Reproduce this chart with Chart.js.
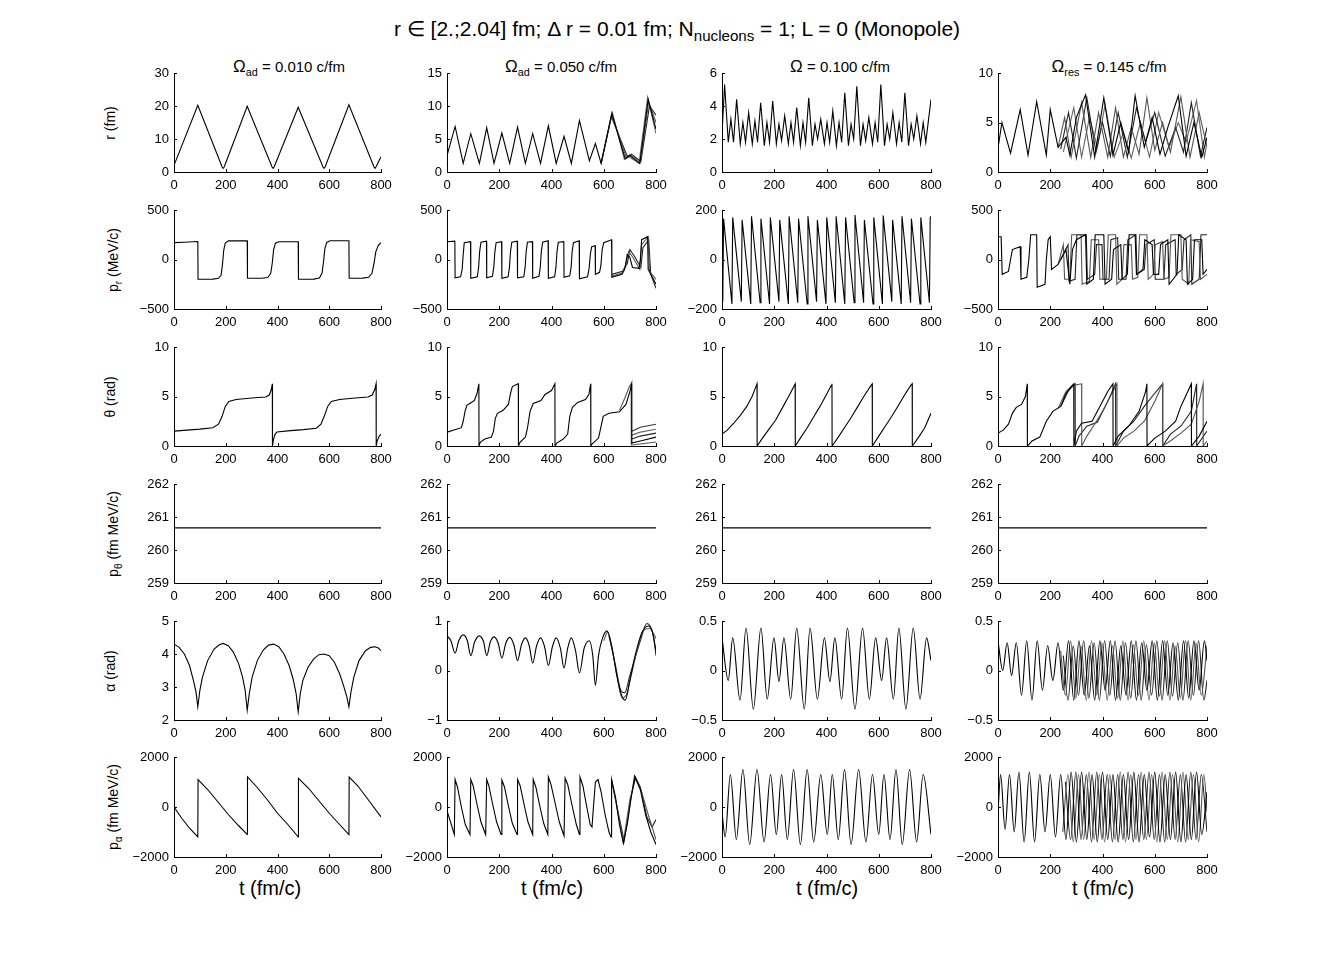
<!DOCTYPE html>
<html>
<head>
<meta charset="utf-8">
<script src="https://cdn.jsdelivr.net/npm/chart.js@4.4.0/dist/chart.umd.min.js"></script>
<style>
body { margin: 0; background: #fff; width: 1334px; height: 963px; position: relative; overflow: hidden; font-family: "Liberation Sans", Arial, sans-serif; color: #000; }
.panel { position: absolute; line-height: 0; }
.lbl { position: absolute; white-space: nowrap; line-height: 1; }
.lbl sub { font-size: 0.72em; vertical-align: -0.35em; line-height: 0; }
.title { font-size: 21px; transform: translateX(-50%); }
.head { font-size: 15px; transform: translateX(-50%); }
.head .om { font-size: 17px; }
.ylab { font-size: 14px; transform: translate(-50%, -50%) rotate(-90deg); }
.xlab { font-size: 20px; transform: translateX(-50%); }
</style>
</head>
<body>
<div class="lbl title" style="left:677px; top:18px;">r ∈ [2.;2.04] fm; Δ r = 0.01 fm; N<sub>nucleons</sub> = 1; L = 0 (Monopole)</div>

<div class="lbl head" style="left:289px; top:58px;"><span class="om">Ω</span><sub>ad</sub> = 0.010 c/fm</div>
<div class="lbl head" style="left:561px; top:58px;"><span class="om">Ω</span><sub>ad</sub> = 0.050 c/fm</div>
<div class="lbl head" style="left:840px; top:58px;"><span class="om">Ω</span> = 0.100 c/fm</div>
<div class="lbl head" style="left:1109px; top:58px;"><span class="om">Ω</span><sub>res</sub> = 0.145 c/fm</div>

<div class="lbl ylab" style="left:110px; top:123px;">r (fm)</div>
<div class="lbl ylab" style="left:113px; top:260px;">p<sub>r</sub> (MeV/c)</div>
<div class="lbl ylab" style="left:110px; top:397px;">θ (rad)</div>
<div class="lbl ylab" style="left:113px; top:534px;">p<sub>θ</sub> (fm MeV/c)</div>
<div class="lbl ylab" style="left:110px; top:671px;">α (rad)</div>
<div class="lbl ylab" style="left:113px; top:807px;">p<sub>α</sub> (fm MeV/c)</div>

<div class="lbl xlab" style="left:270px; top:878px;">t (fm/c)</div>
<div class="lbl xlab" style="left:552px; top:878px;">t (fm/c)</div>
<div class="lbl xlab" style="left:827px; top:878px;">t (fm/c)</div>
<div class="lbl xlab" style="left:1103px; top:878px;">t (fm/c)</div>

<script>
// ---- tick labels ----
const tTicks = [0, 200, 400, 600, 800];
const rTicks = [[0, 10, 20, 30], [0, 5, 10, 15], [0, 2, 4, 6], [0, 5, 10]];
const prTicks = [[-500, 0, 500], [-500, 0, 500], [-200, 0, 200], [-500, 0, 500]];
const thetaTicks = [0, 5, 10];
const pthetaTicks = [259, 260, 261, 262];
const alphaTicks = [[2, 3, 4, 5], [-1, 0, 1], [-0.5, 0, 0.5], [-0.5, 0, 0.5]];
const palphaTicks = [-2000, 0, 2000];

// ---- Omega_ad = 0.010 ----
const r010 = [[0,2.0],[92,20.2],[186,1.5],[190,1.1],[194,1.5],[283,19.9],[379,1.5],[383,1.1],[387,1.5],[480,19.6],[576,1.5],[580,1.1],[584,1.5],[676,20.4],[773,1.5],[777,1.1],[781,1.6],[800,4.6]];
const pr010 = [[0,170],[40,175],[92,182],[93,-200],[150,-198],[172,-190],[182,-160],[187,-60],[192,90],[198,165],[210,188],[283,190],[284,-190],[340,-190],[362,-182],[374,-140],[380,-30],[385,100],[392,165],[405,180],[480,180],[481,-200],[540,-198],[562,-188],[572,-140],[578,-20],[583,110],[590,172],[603,190],[676,190],[677,-190],[730,-188],[752,-180],[765,-140],[773,-40],[780,80],[790,145],[800,170]];
const theta010 = [[0,1.5],[50,1.6],[100,1.7],[150,1.85],[172,2.2],[186,3.0],[198,4.0],[212,4.5],[240,4.7],[300,4.85],[355,4.95],[368,5.15],[376,5.7],[380,6.28],[380.5,0],[384,0.6],[390,1.15],[398,1.42],[450,1.55],[500,1.65],[550,1.8],[568,2.2],[582,3.1],[594,4.0],[608,4.5],[640,4.7],[700,4.85],[750,4.95],[766,5.15],[776,5.7],[781,6.28],[781.5,0],[785,0.5],[792,0.95],[800,1.2]];
const ptheta = [[0,260.67],[800,260.67]];
const alpha010 = [[0,4.3],[20,4.2],[40,4.0],[60,3.65],[75,3.2],[85,2.85],[92,2.4],[100,2.9],[110,3.3],[130,3.8],[155,4.15],[175,4.28],[190,4.32],[210,4.25],[230,4.05],[250,3.7],[265,3.3],[275,2.9],[283,2.3],[291,2.8],[302,3.3],[322,3.8],[345,4.12],[365,4.27],[385,4.3],[405,4.22],[425,4.0],[445,3.65],[460,3.25],[472,2.8],[480,2.25],[488,2.8],[498,3.2],[518,3.6],[540,3.85],[560,3.98],[580,4.0],[600,3.95],[620,3.75],[640,3.4],[655,3.05],[668,2.7],[676,2.4],[684,2.85],[695,3.3],[715,3.8],[740,4.1],[760,4.2],[777,4.22],[790,4.18],[800,4.1]];
const palpha010 = [[0,0],[30,-450],[60,-850],[92,-1200],[93,1100],[130,700],[170,200],[210,-300],[250,-750],[283,-1100],[284,1200],[320,800],[360,300],[400,-250],[440,-700],[480,-1200],[481,1150],[520,750],[560,250],[600,-250],[640,-700],[676,-1100],[677,1200],[710,850],[750,300],[800,-400]];

// ---- Omega_ad = 0.050 ----
const r050 = [[0,2.5],[31,6.9],[62,1.3],[91,5.8],[124,1.3],[152,6.7],[180,1.3],[210,5.9],[240,1.3],[270,6.8],[300,1.3],[328,5.8],[358,1.3],[388,7.0],[418,1.3],[448,5.4],[476,1.3],[507,7.8],[545,1.7],[568,4.3],[590,1.3],[631,8.9],[682,2.0],[700,2.5],[738,1.3],[770,11.0],[800,6.5]];
const r050b = [[590,1.3],[630,8.7],[686,2.2],[703,2.6],[740,1.5],[772,10.6],[800,7.5]];
const r050c = [[590,1.3],[629,8.4],[690,2.4],[706,2.7],[742,1.6],[775,10.0],[800,8.6]];
const r050d = [[590,1.3],[633,9.0],[679,1.9],[697,2.3],[735,1.3],[768,11.3],[800,5.8]];
const pr050 = [[0,180],[30,185],[31,-185],[52,-175],[58,-100],[62,50],[66,170],[90,180],[91,-190],[116,-175],[121,-80],[125,80],[130,175],[151,185],[152,-185],[174,-170],[179,-80],[183,70],[188,170],[209,180],[210,-190],[234,-175],[239,-80],[243,80],[248,175],[269,185],[270,-185],[294,-175],[299,-80],[303,80],[308,175],[327,180],[328,-190],[352,-170],[357,-80],[361,80],[366,175],[387,190],[388,-190],[412,-175],[417,-80],[421,80],[426,175],[447,180],[448,-180],[470,-165],[475,-80],[479,80],[484,170],[506,190],[507,-195],[538,-175],[544,-90],[549,60],[554,130],[567,140],[568,-150],[584,-130],[589,-60],[594,100],[600,170],[630,200],[631,-180],[670,-150],[680,-100],[690,50],[700,20],[710,-80],[735,-90],[740,0],[745,200],[768,230],[770,-100],[800,-250]];
const pr050b = [[631,-170],[668,-140],[685,-60],[695,80],[712,20],[738,-100],[745,150],[770,230],[775,-120],[800,-200]];
const pr050c = [[631,-150],[672,-120],[690,-40],[700,100],[718,30],[742,-80],[750,120],[772,200],[780,-150],[800,-290]];
const theta050 = [[0,1.4],[30,1.65],[55,1.85],[62,2.5],[69,3.5],[76,4.1],[90,4.35],[105,4.6],[115,5.3],[122,6.28],[122.5,0],[128,0.4],[145,0.7],[170,0.9],[178,1.5],[185,2.8],[193,3.3],[215,3.6],[235,4.2],[243,5.3],[250,6.0],[270,6.25],[273,6.28],[273.5,0],[280,0.4],[300,0.9],[308,1.8],[318,3.5],[330,4.3],[360,4.6],[375,5.2],[400,5.6],[413,6.28],[413.5,0],[420,0.3],[445,0.7],[462,1.2],[470,3.0],[480,3.9],[500,4.4],[530,4.7],[543,5.2],[550,6.28],[550.5,0],[555,0.2],[580,0.8],[590,2.0],[598,3.0],[620,3.3],[660,3.45],[685,4.2],[700,5.5],[707,6.28],[707.5,0.3],[740,0.5],[800,0.9]];
const theta050b = [[660,3.6],[680,4.8],[698,6.0],[705,6.28],[705.5,0.1],[740,0.2],[800,0.4]];
const theta050c = [[707.5,0.7],[740,1.0],[800,1.3]];
const theta050d = [[707.5,1.1],[740,1.4],[800,1.7]];
const theta050e = [[707.5,1.5],[740,1.9],[800,2.2]];
const alpha050 = [[0,0.7],[15,0.6],[31,0.35],[45,0.6],[62,0.72],[78,0.6],[91,0.3],[106,0.58],[124,0.7],[140,0.58],[152,0.3],[166,0.58],[180,0.68],[196,0.55],[210,0.25],[225,0.55],[240,0.67],[256,0.52],[270,0.2],[285,0.52],[300,0.66],[315,0.5],[328,0.15],[343,0.5],[358,0.66],[374,0.47],[388,0.1],[403,0.47],[418,0.66],[434,0.45],[448,0.05],[462,0.45],[476,0.66],[492,0.4],[507,-0.05],[525,0.45],[545,0.6],[558,0.3],[568,-0.3],[580,0.3],[592,0.6],[612,0.8],[630,0.5],[650,-0.1],[668,-0.5],[682,-0.6],[700,-0.2],[720,0.3],[745,0.75],[770,0.9],[785,0.8],[800,0.4]];
const alpha050b = [[600,0.6],[615,0.78],[632,0.45],[652,-0.15],[670,-0.55],[686,-0.5],[705,-0.1],[725,0.35],[750,0.8],[775,0.85],[800,0.65]];
const alpha050c = [[620,0.7],[645,0.1],[665,-0.4],[680,-0.45],[700,-0.1],[740,0.6],[765,0.95],[790,0.7],[800,0.3]];
const palpha050 = [[0,-150],[28,-1100],[31,1100],[40,800],[55,0],[70,-700],[88,-1100],[91,1100],[100,850],[115,100],[130,-600],[148,-1100],[152,1100],[160,850],[175,100],[190,-600],[207,-1100],[210,1080],[220,800],[235,50],[250,-650],[268,-1100],[270,1100],[280,850],[295,100],[310,-600],[328,-1100],[330,1100],[340,800],[355,50],[370,-650],[386,-1100],[388,1200],[398,900],[415,100],[430,-600],[448,-1150],[452,1150],[462,900],[478,100],[495,-700],[507,-1100],[509,1200],[520,850],[535,0],[548,-700],[555,-800],[562,200],[568,1000],[578,1100],[590,600],[605,-300],[620,-1000],[628,-1200],[630,1100],[645,400],[660,-700],[675,-1450],[690,-700],[705,400],[720,1200],[740,700],[760,-300],[780,-1000],[800,-1500]];
const palpha050b = [[630,1100],[650,0],[675,-1400],[700,300],[722,1150],[745,600],[770,-300],[800,-1300]];
const palpha050c = [[630,1050],[655,-200],[678,-1350],[702,200],[718,1250],[740,800],[765,-400],[785,-800],[800,-500]];

// ---- Omega = 0.100 ----
const r100 = [[0,2.3],[10,5.3],[24,1.8],[34,3.2],[44,1.8],[56,4.4],[70,1.7],[80,3.0],[90,1.8],[102,3.6],[116,1.7],[126,3.1],[136,1.8],[148,4.2],[162,1.6],[172,3.0],[182,1.8],[194,4.3],[208,1.7],[218,2.9],[228,1.9],[240,3.4],[254,1.7],[264,3.0],[274,1.8],[286,3.9],[300,1.6],[310,3.0],[320,1.8],[332,4.5],[346,1.6],[356,2.9],[366,2.0],[378,3.2],[392,1.7],[402,3.0],[412,1.8],[424,3.7],[438,1.6],[448,3.0],[458,1.8],[470,4.8],[484,1.6],[494,2.9],[504,2.0],[516,5.2],[530,1.6],[540,2.9],[550,1.9],[562,3.3],[576,1.7],[586,3.0],[596,1.8],[608,5.3],[622,1.6],[632,2.9],[642,2.0],[654,3.6],[668,1.7],[678,3.0],[688,1.8],[700,4.8],[714,1.6],[724,2.9],[734,2.0],[746,3.4],[760,1.7],[770,3.0],[780,1.8],[800,4.4]];
const pr100 = [[0,-60],[3,-170],[6,165],[38,-180],[41,170],[74,-170],[77,160],[110,-180],[113,175],[146,-175],[149,165],[182,-180],[185,170],[218,-170],[221,160],[254,-180],[257,175],[290,-175],[293,165],[326,-180],[329,175],[362,-170],[365,160],[398,-180],[401,170],[434,-175],[437,175],[470,-180],[473,170],[506,-175],[509,180],[542,-175],[545,160],[578,-180],[581,170],[614,-180],[617,178],[650,-170],[653,160],[686,-180],[689,175],[722,-175],[725,165],[758,-180],[761,170],[794,-175],[797,170],[800,175]];
const theta100 = [[0,1.2],[20,1.6],[45,2.3],[70,3.1],[95,4.0],[115,5.0],[130,6.0],[134,6.28],[134.5,0],[155,0.8],[180,1.7],[205,2.6],[230,3.8],[255,5.0],[275,6.0],[280,6.28],[280.5,0],[300,0.8],[325,1.8],[350,2.9],[375,4.0],[400,5.2],[418,6.1],[421,6.28],[421.5,0],[445,0.9],[470,1.9],[495,2.9],[520,4.0],[545,5.1],[570,6.1],[575,6.28],[575.5,0],[600,1.0],[625,2.0],[650,3.0],[675,4.1],[700,5.2],[722,6.1],[728,6.28],[728.5,0],[750,0.8],[775,1.8],[800,3.3]];
const alpha100 = [[0,0.33],[24,-0.1],[41,0.33],[69,-0.3],[92,0.43],[120,-0.39],[149,0.43],[173,-0.29],[199,0.33],[218,-0.11],[237,0.33],[263,-0.29],[286,0.43],[315,-0.39],[337,0.43],[365,-0.29],[392,0.33],[413,-0.11],[432,0.33],[458,-0.29],[480,0.43],[509,-0.39],[538,0.43],[564,-0.29],[588,0.33],[611,-0.1],[630,0.33],[656,-0.29],[677,0.43],[704,-0.39],[732,0.43],[758,-0.29],[783,0.33],[800,0.1]];
const palpha100 = [[0,-200],[12,-1200],[32,1300],[55,-1300],[80,1500],[106,-1500],[134,1500],[161,-1400],[186,1300],[208,-1100],[228,1300],[250,-1300],[274,1500],[300,-1500],[326,1500],[351,-1400],[378,1300],[403,-1100],[422,1300],[445,-1300],[469,1500],[494,-1500],[523,1500],[551,-1400],[576,1300],[600,-1100],[620,1300],[643,-1300],[666,1500],[690,-1500],[718,1500],[745,-1400],[770,1300],[800,-1100]];

// ---- Omega_res = 0.145 ----
const r145 = [[0,2.4],[15,5.0],[48,1.9],[85,6.3],[115,1.7],[148,7.1],[185,1.7],[200,6.3],[230,2.5],[260,3.5],[275,1.7],[300,5.5],[335,7.8],[370,1.5],[405,7.5],[440,1.7],[470,5.0],[500,2.0],[525,7.7],[560,2.5],[590,5.5],[620,1.8],[650,4.5],[690,7.7],[720,1.6],[750,5.0],[780,1.5],[800,3.5]];
const r145b = [[230,2.5],[255,5.5],[280,1.5],[320,7.0],[355,1.5],[385,6.0],[420,1.5],[450,6.5],[480,1.5],[510,4.5],[540,1.8],[570,7.5],[600,2.2],[630,5.0],[660,2.0],[700,7.6],[735,1.5],[770,6.0],[800,2.5]];
const r145c = [[240,2.3],[270,6.0],[300,1.4],[340,7.5],[375,2.0],[400,5.0],[430,1.6],[460,6.0],[495,1.5],[530,6.5],[565,3.0],[600,6.0],[640,1.6],[680,4.5],[710,2.0],[740,7.0],[775,1.6],[800,4.5]];
const r145d = [[250,2.0],[290,6.5],[320,1.5],[350,5.5],[380,2.5],[410,6.8],[445,1.5],[480,4.0],[510,1.4],[545,5.0],[580,1.5],[615,6.0],[655,2.5],[690,5.0],[720,3.0],[760,7.2],[790,1.5],[800,3.0]];
const pr145 = [[0,230],[12,230],[16,-150],[40,-120],[48,0],[55,100],[85,130],[88,-200],[110,-180],[118,0],[125,250],[148,250],[150,-280],[180,-250],[185,0],[192,200],[200,230],[205,-100],[230,-50],[260,100],[275,-250],[285,100],[300,200],[335,250],[340,-250],[365,-200],[372,250],[405,250],[410,-250],[435,-200],[442,100],[470,150],[475,-200],[495,-150],[502,250],[525,250],[530,-150],[555,-100],[562,200],[590,150],[595,-150],[615,-150],[622,150],[650,200],[655,-250],[685,-150],[692,250],[720,200],[725,-250],[745,-200],[752,200],[780,200],[785,-150],[800,-100]];
const pr145b = [[230,-50],[250,150],[255,-200],[275,-200],[282,250],[318,250],[322,-250],[350,-220],[357,200],[385,200],[390,-200],[415,-200],[422,250],[450,250],[455,-250],[475,-200],[482,150],[510,150],[515,-200],[535,-180],[542,250],[570,250],[575,-200],[595,-150],[602,150],[630,180],[635,-200],[655,-180],[662,250],[700,250],[705,-200],[730,-250],[737,200],[770,180],[775,-200],[800,-150]];
const pr145c = [[240,0],[268,150],[272,-220],[295,-200],[302,250],[338,250],[342,-200],[370,-150],[377,150],[398,150],[402,-200],[425,-200],[432,200],[458,220],[462,-200],[490,-200],[497,200],[528,250],[532,-150],[560,-100],[567,150],[598,200],[602,-200],[635,-200],[642,150],[678,200],[682,-150],[705,-100],[712,200],[738,250],[742,-250],[770,-200],[777,250],[800,250]];
const theta145 = [[0,1.3],[20,1.6],[40,2.2],[55,3.3],[70,3.9],[90,4.2],[105,5.0],[112,6.28],[112.5,0],[130,0.5],[160,0.9],[185,2.5],[210,3.5],[240,4.0],[260,5.3],[280,6.0],[290,6.28],[290.5,0],[300,1.5],[320,2.3],[360,2.5],[390,4.0],[420,5.5],[440,6.28],[440.5,0],[460,1.0],[500,2.0],[540,3.5],[565,5.5],[570,6.28],[570.5,0],[600,0.8],[640,1.5],[680,2.5],[700,4.0],[740,6.28],[740.5,0],[770,1.0],[800,2.5]];
const theta145b = [[230,3.8],[260,5.5],[285,6.1],[320,6.28],[320.5,0],[340,1.0],[370,2.2],[400,3.5],[430,5.0],[455,6.28],[455.5,0],[480,0.8],[520,1.5],[560,2.5],[600,4.5],[630,6.28],[630.5,0],[660,0.5],[700,1.3],[740,2.2],[770,4.5],[785,6.28],[785.5,0],[800,0.5]];
const theta145c = [[240,4.0],[270,5.6],[295,6.28],[295.5,0],[310,1.0],[340,2.0],[380,2.4],[420,4.5],[450,6.28],[450.5,0],[480,1.5],[520,2.5],[560,4.0],[590,5.0],[630,6.28],[630.5,0],[660,1.2],[700,2.0],[740,3.5],[760,6.28],[760.5,0],[800,1.5]];
const alpha145 = [[0,0.3],[18,0.0],[35,0.28],[52,-0.05],[70,0.28],[90,-0.25],[110,0.3],[130,-0.3],[150,0.3],[170,-0.2],[190,0.25],[210,-0.1],[230,0.28],[250,-0.2],[270,0.3],[290,-0.3],[310,0.3],[330,-0.25],[350,0.25],[370,-0.3],[390,0.3],[410,-0.2],[430,0.3],[450,-0.3],[470,0.25],[490,-0.25],[510,0.3],[530,-0.3],[550,0.28],[570,-0.2],[590,0.3],[610,-0.3],[630,0.3],[650,-0.25],[670,0.28],[690,-0.3],[710,0.3],[730,-0.28],[750,0.3],[770,-0.2],[790,0.3],[800,0.1]];
const alpha145b = [[240,0.2],[258,-0.25],[278,0.3],[298,-0.28],[318,0.25],[338,-0.3],[358,0.3],[378,-0.25],[398,0.28],[418,-0.3],[438,0.25],[458,-0.28],[478,0.3],[498,-0.3],[518,0.26],[538,-0.25],[558,0.3],[578,-0.3],[598,0.28],[618,-0.26],[638,0.3],[658,-0.3],[678,0.25],[698,-0.28],[718,0.3],[738,-0.3],[758,0.28],[778,-0.25],[800,0.25]];
const alpha145c = [[250,0.15],[268,-0.3],[288,0.25],[308,-0.25],[328,0.3],[348,-0.28],[368,0.28],[388,-0.3],[408,0.3],[428,-0.25],[448,0.3],[468,-0.3],[488,0.28],[508,-0.28],[528,0.3],[548,-0.3],[568,0.26],[588,-0.25],[608,0.3],[628,-0.3],[648,0.3],[668,-0.26],[688,0.28],[708,-0.3],[728,0.3],[748,-0.25],[768,0.3],[788,-0.3],[800,-0.1]];
const palpha145 = [[0,-200],[10,1300],[27,-900],[44,1300],[62,-1000],[80,1400],[100,-1400],[120,1400],[140,-1400],[160,1300],[180,-1000],[200,1300],[220,-1200],[240,1300],[260,-1300],[280,1400],[300,-1400],[320,1400],[340,-1300],[360,1300],[380,-1400],[400,1400],[420,-1300],[440,1300],[460,-1400],[480,1300],[500,-1300],[520,1400],[540,-1400],[560,1300],[580,-1200],[600,1400],[620,-1400],[640,1300],[660,-1300],[680,1400],[700,-1400],[720,1300],[740,-1300],[760,1400],[780,-1100],[800,600]];
const palpha145b = [[248,-1000],[268,1300],[288,-1400],[308,1300],[328,-1300],[348,1400],[368,-1300],[388,1300],[408,-1400],[428,1300],[448,-1300],[468,1400],[488,-1400],[508,1300],[528,-1300],[548,1400],[568,-1300],[588,1300],[608,-1400],[628,1400],[648,-1300],[668,1300],[688,-1400],[708,1400],[728,-1300],[748,1300],[768,-1400],[788,1300],[800,-200]];
const palpha145c = [[258,1000],[278,-1300],[298,1400],[318,-1300],[338,1300],[358,-1400],[378,1400],[398,-1300],[418,1300],[438,-1400],[458,1300],[478,-1300],[498,1400],[518,-1400],[538,1300],[558,-1300],[578,1400],[598,-1300],[618,1300],[638,-1400],[658,1400],[678,-1300],[698,1300],[718,-1400],[738,1400],[758,-1300],[778,1300],[800,-1000]];

// ---- layout ----
const COL_X = [174, 447, 722, 998];
const COL_W = [207, 209, 209, 209];
const ROW_Y = [73, 210, 347, 484, 621, 757];
const ROW_H = [99, 99, 99, 99, 99, 100];
const PAD_L = 56, PAD_R = 18, PAD_T = 16, PAD_B = 22;
const LINE_COLORS = ['#000', '#555', '#222', '#666', '#333'];

Chart.defaults.font.family = '"Liberation Sans", Arial, Helvetica, sans-serif';
Chart.defaults.font.size = 13;
Chart.defaults.color = '#000';

function fmt(v) {
    return v < 0 ? '\u2212' + Math.abs(v) : String(v);
}

// MATLAB style ticks pointing into the axes
const innerTicks = {
    id: 'innerTicks',
    afterDraw(chart) {
        const { ctx, chartArea: a, scales: { x, y } } = chart;
        ctx.save();
        ctx.strokeStyle = '#000';
        ctx.lineWidth = 1;
        ctx.beginPath();
        x.ticks.forEach(t => {
            const px = Math.round(x.getPixelForValue(t.value)) + 0.5;
            ctx.moveTo(px, a.bottom);
            ctx.lineTo(px, a.bottom - 3);
        });
        y.ticks.forEach(t => {
            const py = Math.round(y.getPixelForValue(t.value)) + 0.5;
            ctx.moveTo(a.left, py);
            ctx.lineTo(a.left + 3, py);
        });
        ctx.stroke();
        ctx.restore();
    }
};

function makePanel(col, row, yTicks, series, smooth) {
    const w = COL_W[col], h = ROW_H[row];
    const holder = document.createElement('div');
    holder.className = 'panel';
    holder.style.left = (COL_X[col] - PAD_L) + 'px';
    holder.style.top = (ROW_Y[row] - PAD_T) + 'px';
    const cv = document.createElement('canvas');
    cv.width = PAD_L + w + PAD_R;
    cv.height = PAD_T + h + PAD_B;
    holder.appendChild(cv);
    document.body.appendChild(holder);

    new Chart(cv, {
        type: 'line',
        data: {
            datasets: series.map((s, i) => ({
                data: s.map(p => ({ x: p[0], y: p[1] })),
                borderColor: LINE_COLORS[i % LINE_COLORS.length],
                borderWidth: 1.1,
                pointRadius: 0,
                fill: false,
                tension: 0,
                cubicInterpolationMode: smooth ? 'monotone' : 'default'
            }))
        },
        options: {
            responsive: false,
            animation: false,
            events: [],
            layout: { padding: { top: PAD_T, right: PAD_R, left: 0, bottom: 0 } },
            plugins: { legend: { display: false }, tooltip: { enabled: false } },
            scales: {
                x: {
                    type: 'linear',
                    min: 0,
                    max: 800,
                    afterBuildTicks: s => { s.ticks = tTicks.map(v => ({ value: v })); },
                    afterFit: s => { s.height = PAD_B; },
                    grid: { display: false, drawTicks: false },
                    border: { display: true, color: '#000', width: 1 },
                    ticks: { padding: 6, maxRotation: 0, autoSkip: false, callback: fmt }
                },
                y: {
                    type: 'linear',
                    min: yTicks[0],
                    max: yTicks[yTicks.length - 1],
                    afterBuildTicks: s => { s.ticks = yTicks.map(v => ({ value: v })); },
                    afterFit: s => { s.width = PAD_L; },
                    grid: { display: false, drawTicks: false },
                    border: { display: true, color: '#000', width: 1 },
                    ticks: { padding: 5, autoSkip: false, callback: fmt }
                }
            }
        },
        plugins: [innerTicks]
    });
}

// column 1
makePanel(0, 0, rTicks[0], [r010], false);
makePanel(0, 1, prTicks[0], [pr010], false);
makePanel(0, 2, thetaTicks, [theta010], false);
makePanel(0, 3, pthetaTicks, [ptheta], false);
makePanel(0, 4, alphaTicks[0], [alpha010], false);
makePanel(0, 5, palphaTicks, [palpha010], false);
// column 2
makePanel(1, 0, rTicks[1], [r050, r050b, r050c, r050d], false);
makePanel(1, 1, prTicks[1], [pr050, pr050b, pr050c], false);
makePanel(1, 2, thetaTicks, [theta050, theta050b, theta050c, theta050d, theta050e], false);
makePanel(1, 3, pthetaTicks, [ptheta], false);
makePanel(1, 4, alphaTicks[1], [alpha050, alpha050b, alpha050c], true);
makePanel(1, 5, palphaTicks, [palpha050, palpha050b, palpha050c], false);
// column 3
makePanel(2, 0, rTicks[2], [r100], false);
makePanel(2, 1, prTicks[2], [pr100], false);
makePanel(2, 2, thetaTicks, [theta100], false);
makePanel(2, 3, pthetaTicks, [ptheta], false);
makePanel(2, 4, alphaTicks[2], [alpha100], true);
makePanel(2, 5, palphaTicks, [palpha100], true);
// column 4
makePanel(3, 0, rTicks[3], [r145, r145b, r145c, r145d], false);
makePanel(3, 1, prTicks[3], [pr145, pr145b, pr145c], false);
makePanel(3, 2, thetaTicks, [theta145, theta145b, theta145c], false);
makePanel(3, 3, pthetaTicks, [ptheta], false);
makePanel(3, 4, alphaTicks[3], [alpha145, alpha145b, alpha145c], true);
makePanel(3, 5, palphaTicks, [palpha145, palpha145b, palpha145c], true);
</script>
</body>
</html>
